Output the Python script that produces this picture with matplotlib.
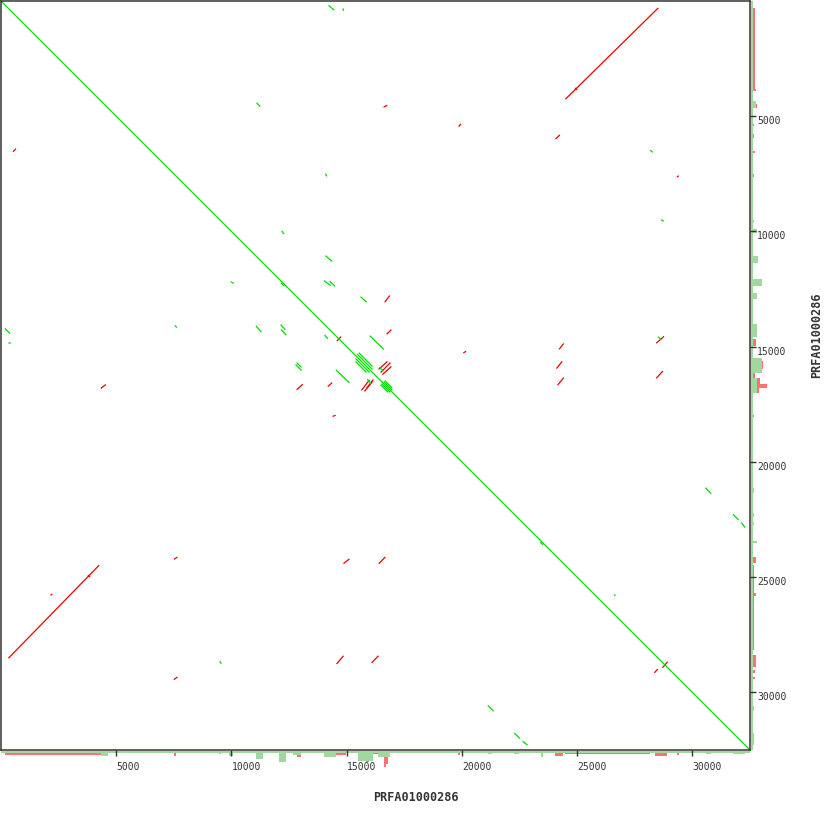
import matplotlib
matplotlib.use("Agg")
import matplotlib.pyplot as plt

# sequence length (bp) and axis ticks
seq_len = 32500
ticks = [5000, 10000, 15000, 20000, 25000, 30000]
seq_name = "PRFA01000286"

# forward matches (x1, y1, x2, y2) in bp
green_segs = [
    (0, 0, 32500, 32500),
    (14210, 190, 14460, 400), (14840, 320, 14860, 430),
    (11090, 4420, 11250, 4580), (14080, 7500, 14140, 7610),
    (28170, 6470, 28280, 6570), (28640, 9490, 28760, 9560),
    (28510, 14560, 28630, 14690), (9490, 28640, 9560, 28760),
    (30560, 21120, 30820, 21380), (31760, 22270, 32010, 22520),
    (32120, 22630, 32290, 22850), (26600, 25750, 26660, 25810),
    (21120, 30560, 21380, 30820), (22270, 31760, 22520, 32010),
    (22630, 32120, 22850, 32290),
    (170, 14210, 390, 14430), (320, 14830, 430, 14850),
    (7540, 14080, 7630, 14170),
    (12180, 9970, 12280, 10110), (9970, 12180, 10100, 12260),
    (14080, 11050, 14370, 11300), (11060, 14100, 11300, 14360),
    (14010, 12130, 14300, 12350), (14260, 12160, 14500, 12380),
    (12130, 14040, 12340, 14260), (12150, 14260, 12380, 14500),
    (15600, 12830, 15870, 13070),
    (12830, 15690, 13040, 15900), (12780, 15770, 13040, 16030),
    (14040, 14490, 14180, 14660),
    (16000, 14520, 16610, 15120), (14530, 16000, 15120, 16570),
    (15450, 15320, 16120, 15990), (15520, 15260, 16120, 15860),
    (15380, 15510, 15990, 16120), (15380, 15640, 15860, 16120),
    (16600, 16510, 16980, 16890), (16650, 16470, 16980, 16800),
    (16510, 16600, 16890, 16980), (16470, 16650, 16800, 16980),
    (16410, 15890, 16610, 16060), (15890, 16410, 16060, 16610),
    (12150, 12230, 12300, 12380), (23400, 23480, 23520, 23600),
]

# reverse-complement matches (x1, y1, x2, y2) in bp
red_segs = [
    (24490, 4260, 28520, 300), (320, 28520, 4260, 24480),
    (24910, 3770, 25000, 3860), (3770, 24910, 3860, 25000),
    (2150, 25790, 2230, 25730),
    (16600, 4610, 16760, 4520), (4330, 16810, 4550, 16640),
    (19860, 5450, 19960, 5330), (24060, 5990, 24250, 5810),
    (29330, 7640, 29410, 7580), (20060, 15270, 20180, 15200),
    (24220, 15110, 24420, 14860), (24100, 15950, 24350, 15640),
    (24150, 16670, 24420, 16340), (28430, 14850, 28770, 14550),
    (28430, 16370, 28720, 16060), (7500, 24230, 7660, 24130),
    (14860, 24410, 15120, 24210), (16390, 24420, 16680, 24120),
    (7500, 29450, 7660, 29330), (14560, 28770, 14860, 28410),
    (16080, 28720, 16380, 28410), (28350, 29150, 28500, 28990),
    (28700, 28930, 28930, 28670), (520, 6540, 650, 6410),
    (16650, 13070, 16870, 12780), (12830, 16870, 13090, 16630),
    (14570, 14760, 14760, 14560), (16730, 14460, 16940, 14260),
    (14180, 16730, 14370, 16560), (14390, 18030, 14520, 17970),
    (16380, 15990, 16770, 15640), (16470, 16120, 16900, 15690),
    (16550, 16210, 16940, 15860),
    (15640, 16900, 15990, 16440), (15770, 16940, 16120, 16510),
    (15860, 16810, 16160, 16420),
]

# coverage tracks (start, end, depth)
x_cov_green = [
    (0, 32500, 1), (4330, 4640, 2), (9450, 9530, 1.3), (9880, 10050, 2),
    (11050, 11350, 3.3), (12050, 12350, 4.6), (12650, 13000, 1.7),
    (14000, 14520, 2.7), (15510, 16120, 4.2), (16380, 16900, 2.6),
    (21150, 21320, 1.5), (22270, 22490, 1.3), (23440, 23530, 2.5),
    (30590, 30810, 1.5), (31760, 32280, 1.3),
]
x_cov_red = [
    (170, 4330, 1.6), (3810, 3900, 1.8), (4420, 4550, 2.3), (7500, 7580, 2),
    (12830, 13000, 2.6), (14520, 14950, 1.7), (15820, 15950, 4.8),
    (16120, 16380, 1.4), (16600, 16700, 6.8), (16700, 16810, 5.5),
    (19850, 19930, 1.7),
    (24050, 24400, 2.2), (24480, 28160, 1.5), (28380, 28900, 2.2),
    (29330, 29420, 1.7),
]
y_cov_green = [
    (0, 32500, 1), (4330, 4640, 2.2), (9490, 9620, 1.3), (9880, 10050, 2.6),
    (11050, 11350, 3), (12050, 12350, 4.7), (12650, 12910, 2.6),
    (14000, 14560, 2.6), (15510, 16120, 4.7), (16380, 16990, 2.6),
    (21150, 21360, 1.5), (22230, 22400, 1.3), (22620, 22750, 1.3),
    (23440, 23530, 2.5), (30590, 30810, 1.5), (31760, 32280, 1.3),
]
y_cov_red = [
    (300, 3810, 1.7), (3810, 3900, 2.2), (4460, 4640, 2.6), (5330, 5420, 1.4),
    (5760, 5940, 1.4), (6500, 6590, 1.7), (7500, 7630, 1.3),
    (12780, 12910, 2.6), (14080, 14600, 2.8), (14650, 14950, 2.2),
    (15600, 15950, 5.2), (16120, 16380, 1.7), (16380, 16600, 4),
    (16600, 16810, 7), (16810, 16990, 3.5),
    (17980, 18070, 1.4), (24130, 24400, 2.2), (24480, 28160, 1.5),
    (25690, 25820, 2.2), (28380, 28900, 2.2), (29030, 29160, 1.7),
    (29330, 29420, 1.7),
]

fg = "#333333"
W = 830.0
fig = plt.figure(figsize=(8.3, 8.3), dpi=100)
ax = fig.add_axes([1 / W, 80 / W, 749 / W, 749 / W])
ax.set_zorder(3)

for x1, y1, x2, y2 in red_segs:
    ax.plot([x1, x2], [y1, y2], color="#ee0000", lw=0.9, solid_capstyle="butt")
for x1, y1, x2, y2 in green_segs:
    ax.plot([x1, x2], [y1, y2], color="#00dd00", lw=0.9, solid_capstyle="butt")

ax.set_xlim(0, seq_len)
ax.set_ylim(seq_len, 0)
for s in ax.spines.values():
    s.set_color(fg)
    s.set_linewidth(1.1)

mono = "DejaVu Sans Mono"
ax.set_xticks(ticks)
ax.set_xticklabels([str(t) for t in ticks], fontsize=7, family=mono, color=fg)
ax.yaxis.tick_right()
ax.set_yticks(ticks)
ax.set_yticklabels([str(t) for t in ticks], fontsize=7, family=mono, color=fg)
ax.tick_params(axis="x", direction="out", length=4.5, width=1, color=fg, pad=3.8)
ax.tick_params(axis="y", direction="out", length=4.5, width=1, color=fg, pad=0.5)
for lab in ax.get_xticklabels():
    lab.set_ha("left")
for lab in ax.get_yticklabels():
    lab.set_va("top")

# coverage along x (below the plot)
hb = fig.add_axes([1 / W, (830 - 769.4) / W, 749 / W, 18.4 / W])
hb.set_zorder(1)
for s, e, v in x_cov_red:
    hb.bar(s, v, width=e - s, align="edge", color="#ff7070", linewidth=0)
for s, e, v in x_cov_green:
    hb.bar(s, v, width=e - s, align="edge", color="#a0d8a0", linewidth=0)
hb.set_xlim(0, seq_len)
hb.set_ylim(8, 0)
hb.axis("off")

# coverage along y (right of the plot)
hr = fig.add_axes([751 / W, 80 / W, 18.4 / W, 749 / W])
hr.set_zorder(1)
for s, e, v in y_cov_red:
    hr.barh(s, v, height=e - s, align="edge", color="#ff7070", linewidth=0)
for s, e, v in y_cov_green:
    hr.barh(s, v, height=e - s, align="edge", color="#a0d8a0", linewidth=0)
hr.set_ylim(seq_len, 0)
hr.set_xlim(0, 8)
hr.axis("off")

fig.text(416 / W, 1 - 797 / W, seq_name, ha="center", va="center",
         fontsize=8.5, family=mono, weight="bold", color=fg)
fig.text(817 / W, 1 - 335 / W, seq_name, ha="center", va="center",
         fontsize=8.5, family=mono, weight="bold", color=fg, rotation=90)

fig.savefig("out.png", dpi=100, facecolor="white")
